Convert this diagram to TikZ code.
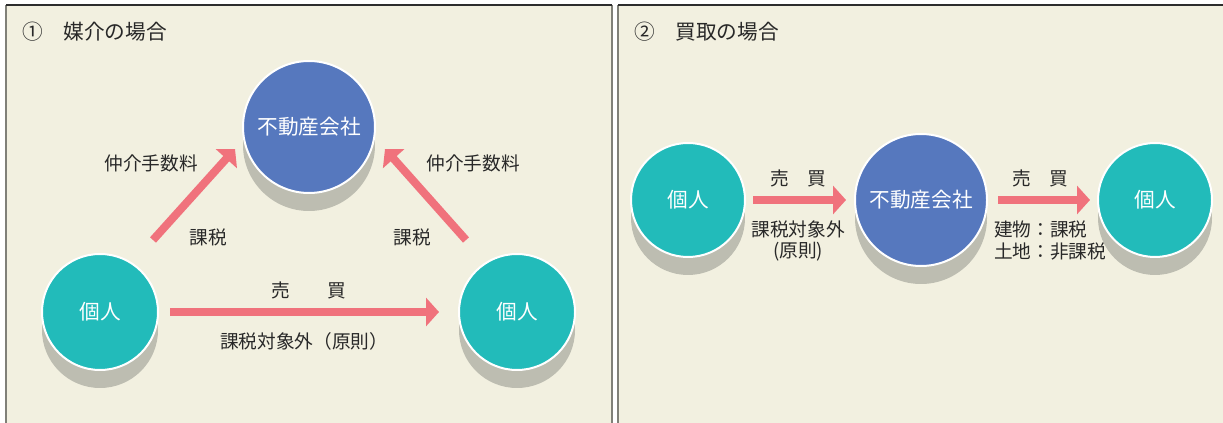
\documentclass[tikz,border=0pt]{standalone}
\usepackage{fontspec}
\setmainfont{Noto Sans CJK JP}
\usetikzlibrary{arrows.meta}

\definecolor{panelbg}{RGB}{242,240,224}
\definecolor{sidecol}{RGB}{128,128,120}
\definecolor{topcol}{RGB}{45,45,45}
\definecolor{kojincol}{RGB}{34,187,186}
\definecolor{kaishacol}{RGB}{86,120,190}
\definecolor{shadowcol}{RGB}{189,189,177}
\definecolor{arrowcol}{RGB}{240,114,124}
\definecolor{txtcol}{RGB}{40,40,40}

\tikzset{
  kojin/.style={circle, draw=white, line width=1.5pt, fill=kojincol, minimum size=87pt,
    inner sep=0pt, outer sep=0pt, text=white, font=\fontsize{15.5}{18}\selectfont},
  kaisha/.style={kojin, fill=kaishacol, minimum size=99pt},
  lbl/.style={text=txtcol, font=\fontsize{14}{16}\selectfont, inner sep=0.75pt},
  ttl/.style={text=txtcol, font=\fontsize{15.5}{18}\selectfont, inner sep=0pt, anchor=west},
  bigarrow/.style={draw=arrowcol, line width=6pt, -{Triangle[length=9.75pt,width=21pt]}}
}

\begin{document}
\begin{tikzpicture}[x=0.75pt,y=0.75pt,yscale=-1,xscale=1]
\useasboundingbox (0,0) rectangle (1223,423);

%Panels
\fill[panelbg] (6,5) rectangle (612,423);
\fill[panelbg] (618,5) rectangle (1223,423);
\draw[sidecol, line width=1.5pt] (6,423) -- (6,5) (612,5) -- (612,423);
\draw[sidecol, line width=1.5pt] (618,423) -- (618,5);
\draw[topcol, line width=1pt] (6,5) -- (612,5) (618,5) -- (1223,5);

% Text Node
\node[ttl] (t1) at (22,32) {①　媒介の場合};
% Text Node
\node[ttl] (t2) at (634,32) {②　買取の場合};

%Shadows
\fill[shadowcol] (309,145) circle (66);
\fill[shadowcol] (100,330) circle (58);
\fill[shadowcol] (517,330) circle (58);
\fill[shadowcol] (688,218) circle (57);
\fill[shadowcol] (921,218) circle (66);
\fill[shadowcol] (1155,218) circle (57);

%Circles, panel 1
\node[kaisha] (co1) at (309,127) {不動産会社};
\node[kojin] (sell1) at (100,312) {個人};
\node[kojin] (buy1) at (517,312) {個人};

%Circles, panel 2
\node[kojin, minimum size=85.5pt] (sell2) at (688,200) {個人};
\node[kaisha] (co2) at (921,200) {不動産会社};
\node[kojin, minimum size=85.5pt] (buy2) at (1155,200) {個人};

%Arrow ends
\coordinate (ltail) at (153,240);
\coordinate (lhead) at (235,149);
\coordinate (rtail) at (466,240);
\coordinate (rhead) at (385,149);

%Straight Lines
\draw[bigarrow] (ltail) -- (lhead);
\draw[bigarrow] (rtail) -- (rhead);
\draw[bigarrow, shorten <=9pt, shorten >=15pt] (sell1) -- (buy1);
\draw[bigarrow, shorten <=6pt, shorten >=6.75pt] (sell2) -- (co2);
\draw[bigarrow, shorten <=8.25pt, shorten >=6pt] (co2) -- (buy2);

% Text Node
\node[lbl] (fee1) at (151,163) {仲介手数料};
% Text Node
\node[lbl] (fee2) at (473,163) {仲介手数料};
% Text Node
\node[lbl] (tax1) at (208,237) {課税};
% Text Node
\node[lbl] (tax2) at (412,237) {課税};
% Text Node
\node[lbl] (deal1) at (309,290) {売　　買};
% Text Node
\node[lbl] (free1) at (304,341) {課税対象外（原則）};

% Text Node
\node[lbl] (deal2) at (798,178) {売　買};
% Text Node
\node[lbl] (free2) at (798,229) {課税対象外};
% Text Node
\node[lbl] (rule2) at (798,252) {(原則)};
% Text Node
\node[lbl] (deal3) at (1040,178) {売　買};
% Text Node
\node[lbl, anchor=west] (bld) at (993,229) {建物：課税};
% Text Node
\node[lbl, anchor=west] (land) at (993,252) {土地：非課税};
\end{tikzpicture}
\end{document}
